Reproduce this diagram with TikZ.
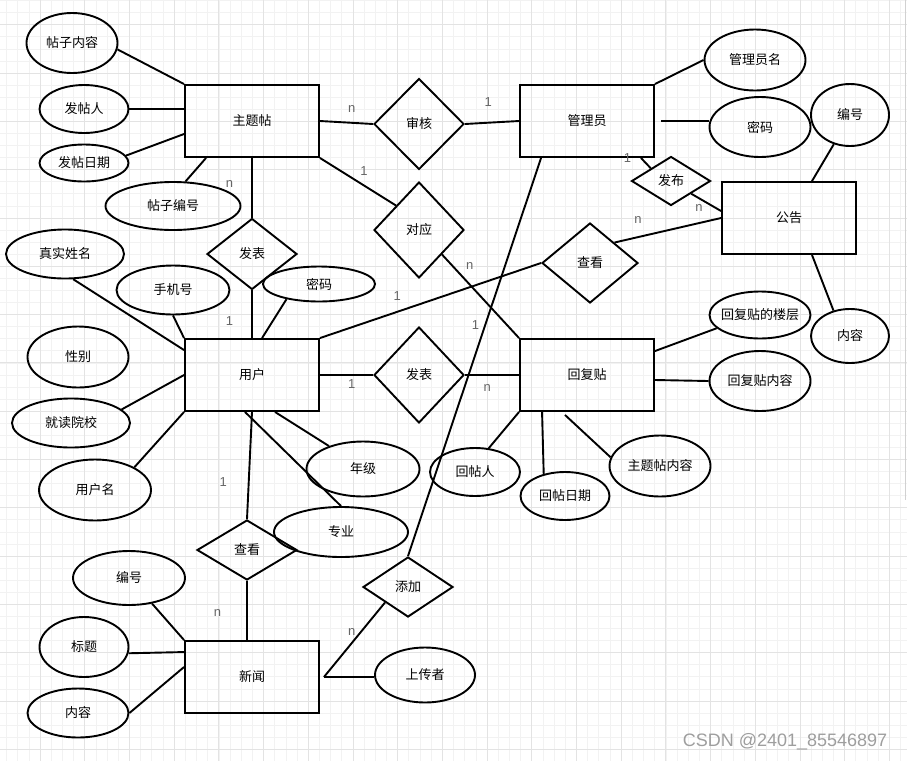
\documentclass[tikz,border=0pt]{standalone}
\usepackage{fontspec}
\setmainfont{Liberation Sans}
\newfontfamily\cjk{Noto Sans CJK SC}
\usetikzlibrary{shapes.geometric}

\begin{document}
\begin{tikzpicture}[x=1pt, y=-1pt, line width=1.9pt,
  font=\cjk\fontsize{13}{15}\selectfont,
  entity/.style={draw, rectangle, minimum width=134pt, minimum height=72pt, inner sep=0pt},
  rel/.style 2 args={draw, diamond, minimum width=#1, minimum height=#2, inner sep=0pt},
  attr/.style 2 args={draw, ellipse, minimum width=#1, minimum height=#2, inner sep=0pt},
  card/.style={font=\rmfamily\fontsize{13}{15}\selectfont, text=black!60, inner sep=0pt},
  minorgrid/.style={line width=0.6pt, draw=black!5},
  majorgrid/.style={line width=0.8pt, draw=black!11}]

% background grid
\useasboundingbox (0,0) rectangle (907,761);
\fill[white] (0,0) rectangle (907,761);
\foreach \i in {0,...,80} \draw[minorgrid] ({6.475+11.175*\i},0) -- ({6.475+11.175*\i},761);
\foreach \i in {0,...,62} \draw[minorgrid] (0,{0.55+12.075*\i}) -- (907,{0.55+12.075*\i});
\foreach \i in {0,...,19} \draw[majorgrid] ({40+44.7*\i},0) -- ({40+44.7*\i},761);
\foreach \i in {0,...,15} \draw[majorgrid] (0,{24.7+48.3*\i}) -- (907,{24.7+48.3*\i});
\draw[line width=1pt, black!18] (905,0) -- (905,500);

% entities
\node (zt) [entity] at (252,121) {主题帖};
\node (gly) [entity] at (587,121) {管理员};
\node (gg) [entity] at (789,218) {公告};
\node (yh) [entity] at (252,375) {用户};
\node (hft) [entity] at (587,375) {回复贴};
\node (xw) [entity] at (252,677) {新闻};

% relations
\node (sh) [rel={90pt}{91pt}] at (419,124) {审核};
\node (dy) [rel={90pt}{96pt}] at (419,230) {对应};
\node (fb1) [rel={90pt}{71pt}] at (252,254) {发表};
\node (fbu) [rel={79pt}{49pt}] at (671,181) {发布};
\node (ck1) [rel={96pt}{80pt}] at (590,263) {查看};
\node (fb2) [rel={90pt}{96pt}] at (419,375) {发表};
\node (ck2) [rel={100pt}{60pt}] at (247,550) {查看};
\node (tj) [rel={90pt}{60pt}] at (408,587) {添加};

% attributes
\node (tznr) [attr={91pt}{60pt}] at (72,43) {帖子内容};
\node (ftr) [attr={89pt}{48pt}] at (84,109) {发帖人};
\node (ftrq) [attr={89pt}{37pt}] at (84,163) {发帖日期};
\node (tzbh) [attr={135pt}{48pt}] at (173,206) {帖子编号};
\node (zsxm) [attr={118pt}{49pt}] at (65,254) {真实姓名};
\node (sjh) [attr={113pt}{49pt}] at (173,290) {手机号};
\node (mm1) [attr={112pt}{35pt}] at (319,284) {密码};
\node (xb) [attr={101pt}{61pt}] at (78,357) {性别};
\node (jdyx) [attr={118pt}{49pt}] at (71,423) {就读院校};
\node (yhm) [attr={112pt}{61pt}] at (95,490) {用户名};
\node (nj) [attr={113pt}{55pt}] at (363,469) {年级};
\node (zy) [attr={134pt}{50pt}] at (341,532) {专业};
\node (glym) [attr={101pt}{61pt}] at (755,60) {管理员名};
\node (mm2) [attr={101pt}{60pt}] at (760,127) {密码};
\node (bh1) [attr={78pt}{62pt}] at (850,115) {编号};
\node (nr1) [attr={78pt}{54pt}] at (850,336) {内容};
\node (hftlc) [attr={101pt}{47pt}] at (760,315) {\makebox[40pt]{回复贴的楼层}};
\node (hftnr) [attr={101pt}{60pt}] at (760,381) {回复贴内容};
\node (htr) [attr={90pt}{48pt}] at (475,472) {回帖人};
\node (htrq) [attr={89pt}{48pt}] at (565,496) {回帖日期};
\node (ztnr) [attr={101pt}{61pt}] at (660,466) {主题帖内容};
\node (bh2) [attr={112pt}{54pt}] at (129,578) {编号};
\node (bt) [attr={89pt}{60pt}] at (84,647) {标题};
\node (nr2) [attr={101pt}{49pt}] at (78,713) {内容};
\node (scz) [attr={100pt}{55pt}] at (425,675) {上传者};

% 主题帖
\draw (tznr.-8) -- (zt.north west);
\draw (ftr.east) -- (ftr.east -| zt.west);
\draw (ftrq.10) -- ([yshift=-13pt]zt.west);
\draw (tzbh.63) -- ([xshift=22pt]zt.south west);
\draw (zt.south) -- node[card, pos=.43, left=18pt] {n} (fb1.north);
\draw (fb1.south) -- node[card, pos=.65, left=18pt] {1} (yh.north);
\draw (zt.east) -- node[card, pos=.6, above=9pt] {n} (sh.west);
\draw (sh.east) -- node[card, pos=.43, above=15pt] {1} (gly.west);
\draw (zt.south east) -- node[card, pos=.58, above=9pt] {1} (dy.north west);
\draw (dy.south east) -- node[card, pos=.36, above=14pt] {n} (hft.north west);

% 管理员 and 公告
\draw (gly.north east) -- (glym.west);
\draw ([xshift=6pt]gly.east) -- (mm2.west |- gly.east);
\draw ([xshift=-14pt]gly.south east) -- node[card, pos=0, left=9pt] {1} (fbu.north west);
\draw (fbu.south east) -- node[card, pos=.26, below=5pt] {n} ([yshift=7pt]gg.west);
\draw ([xshift=23pt]gg.north) -- (bh1.241);
\draw ([xshift=23pt]gg.south) -- (nr1.123);
\draw (ck1.north east) -- node[card, pos=.22, above=13pt] {n} (gg.west);
\draw (ck1.west) -- node[card, pos=.65, above=10pt] {1} (yh.north east);
\draw ([xshift=22pt]gly.south west) -- node[card, pos=.42, left=5pt] {1} (tj.north);

% 用户
\draw (yh.east) -- node[card, pos=.6, below=4pt] {1} (fb2.west);
\draw (fb2.east) -- node[card, pos=.41, below=9pt] {n} (hft.west);
\draw (zsxm.-72) -- ([yshift=-12pt]yh.north west);
\draw (sjh.south) -- (yh.north west);
\draw ([xshift=78pt]yh.north west) -- (mm1.205);
\draw (jdyx.15) -- (yh.west);
\draw (yhm.30) -- (yh.south west);
\draw ([xshift=23pt]yh.south) -- (nj.146);
\draw ([xshift=-7pt]yh.south) -- (zy.north);
\draw (yh.south) -- node[card, pos=.65, left=21pt] {1} (ck2.north);
\draw (ck2.south) -- node[card, pos=.54, left=25pt] {n} (ck2.south |- xw.north);

% 新闻
\draw (bh2.-48) -- (xw.north west);
\draw (bt.-8) -- ([yshift=-12pt]xw.north west);
\draw (nr2.east) -- ([yshift=10pt]xw.west);
\draw ([xshift=4pt]xw.east) -- node[card, pos=.61, left=5pt] {n} (tj.south west);
\draw ([xshift=4pt]xw.east) -- (xw.east -| scz.west);

% 回复贴
\draw ([yshift=-13pt]hft.north east) -- (hftlc.197);
\draw ([yshift=-5pt]hft.east) -- (hftnr.west);
\draw (htr.60) -- (hft.south west);
\draw ([xshift=23pt]hft.south west) -- (htrq.134);
\draw ([shift={(-22pt,-3pt)}]hft.south) -- (ztnr.170);

\node (wm) [font=\rmfamily\fontsize{18}{20}\selectfont, text=black!38] at (785,742) {CSDN @2401\_85546897};
\end{tikzpicture}
\end{document}
